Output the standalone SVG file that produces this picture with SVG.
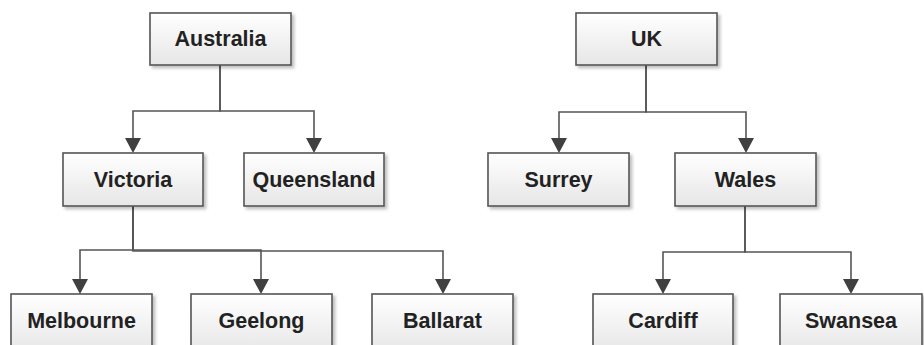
<svg xmlns="http://www.w3.org/2000/svg" width="924" height="345" viewBox="0 0 924 345">
<defs>
<linearGradient id="g" x1="0" y1="0" x2="0" y2="1">
<stop offset="0" stop-color="#ffffff"/>
<stop offset="1" stop-color="#e6e6e6"/>
</linearGradient>
<filter id="sh" x="-10%" y="-10%" width="130%" height="140%">
<feDropShadow dx="2.5" dy="2.5" stdDeviation="1.5" flood-color="#000" flood-opacity="0.25"/>
</filter>
<style>
.box{fill:url(#g);stroke:#555;stroke-width:1.6;filter:url(#sh)}
.lbl{font-family:"Liberation Sans",Arial,sans-serif;font-weight:bold;font-size:21.5px;fill:#222;text-anchor:middle}
.c{fill:none;stroke:#555;stroke-width:1.6}
.ah{fill:#404040}
</style>
</defs>
<rect width="924" height="345" fill="#fff"/>
<g id="connectors">
<path class="c" d="M220,65 V111 H133 V145"/>
<path class="c" d="M220,65 V111 H314 V145"/>
<path class="c" d="M133,206 V250 H80 V285"/>
<path class="c" d="M133,206 V250 H261 V285"/>
<path class="c" d="M133,206 V251 H443 V285"/>
<path class="c" d="M646,65 V112 H559 V145"/>
<path class="c" d="M646,65 V112 H746 V145"/>
<path class="c" d="M745,206 V252 H663 V285"/>
<path class="c" d="M745,206 V252 H851 V285"/>
<path class="ah" d="M125,138 H141 L133,153 Z"/>
<path class="ah" d="M306,138 H322 L314,153 Z"/>
<path class="ah" d="M72,279 H88 L80,294 Z"/>
<path class="ah" d="M253,279 H269 L261,294 Z"/>
<path class="ah" d="M435,279 H451 L443,294 Z"/>
<path class="ah" d="M551,138 H567 L559,153 Z"/>
<path class="ah" d="M738,138 H754 L746,153 Z"/>
<path class="ah" d="M655,279 H671 L663,294 Z"/>
<path class="ah" d="M843,279 H859 L851,294 Z"/>
</g>
<g id="australia"><rect class="box" x="150" y="13" width="141" height="52"/><text class="lbl" x="220.5" y="46">Australia</text></g>
<g id="victoria"><rect class="box" x="63" y="153" width="140" height="53"/><text class="lbl" x="133" y="187">Victoria</text></g>
<g id="queensland"><rect class="box" x="244" y="153" width="140" height="53"/><text class="lbl" x="314" y="187">Queensland</text></g>
<g id="melbourne"><rect class="box" x="11" y="294" width="141" height="60"/><text class="lbl" x="81.5" y="328">Melbourne</text></g>
<g id="geelong"><rect class="box" x="191" y="294" width="141" height="60"/><text class="lbl" x="261.5" y="328">Geelong</text></g>
<g id="ballarat"><rect class="box" x="372" y="294" width="141" height="60"/><text class="lbl" x="442.5" y="328">Ballarat</text></g>
<g id="uk"><rect class="box" x="576" y="13" width="141" height="52"/><text class="lbl" x="646.5" y="46">UK</text></g>
<g id="surrey"><rect class="box" x="488" y="153" width="141" height="53"/><text class="lbl" x="558.5" y="187">Surrey</text></g>
<g id="wales"><rect class="box" x="675" y="153" width="141" height="53"/><text class="lbl" x="745.5" y="187">Wales</text></g>
<g id="cardiff"><rect class="box" x="593" y="294" width="140" height="60"/><text class="lbl" x="663" y="328">Cardiff</text></g>
<g id="swansea"><rect class="box" x="780" y="294" width="142" height="60"/><text class="lbl" x="851" y="328">Swansea</text></g>
</svg>
